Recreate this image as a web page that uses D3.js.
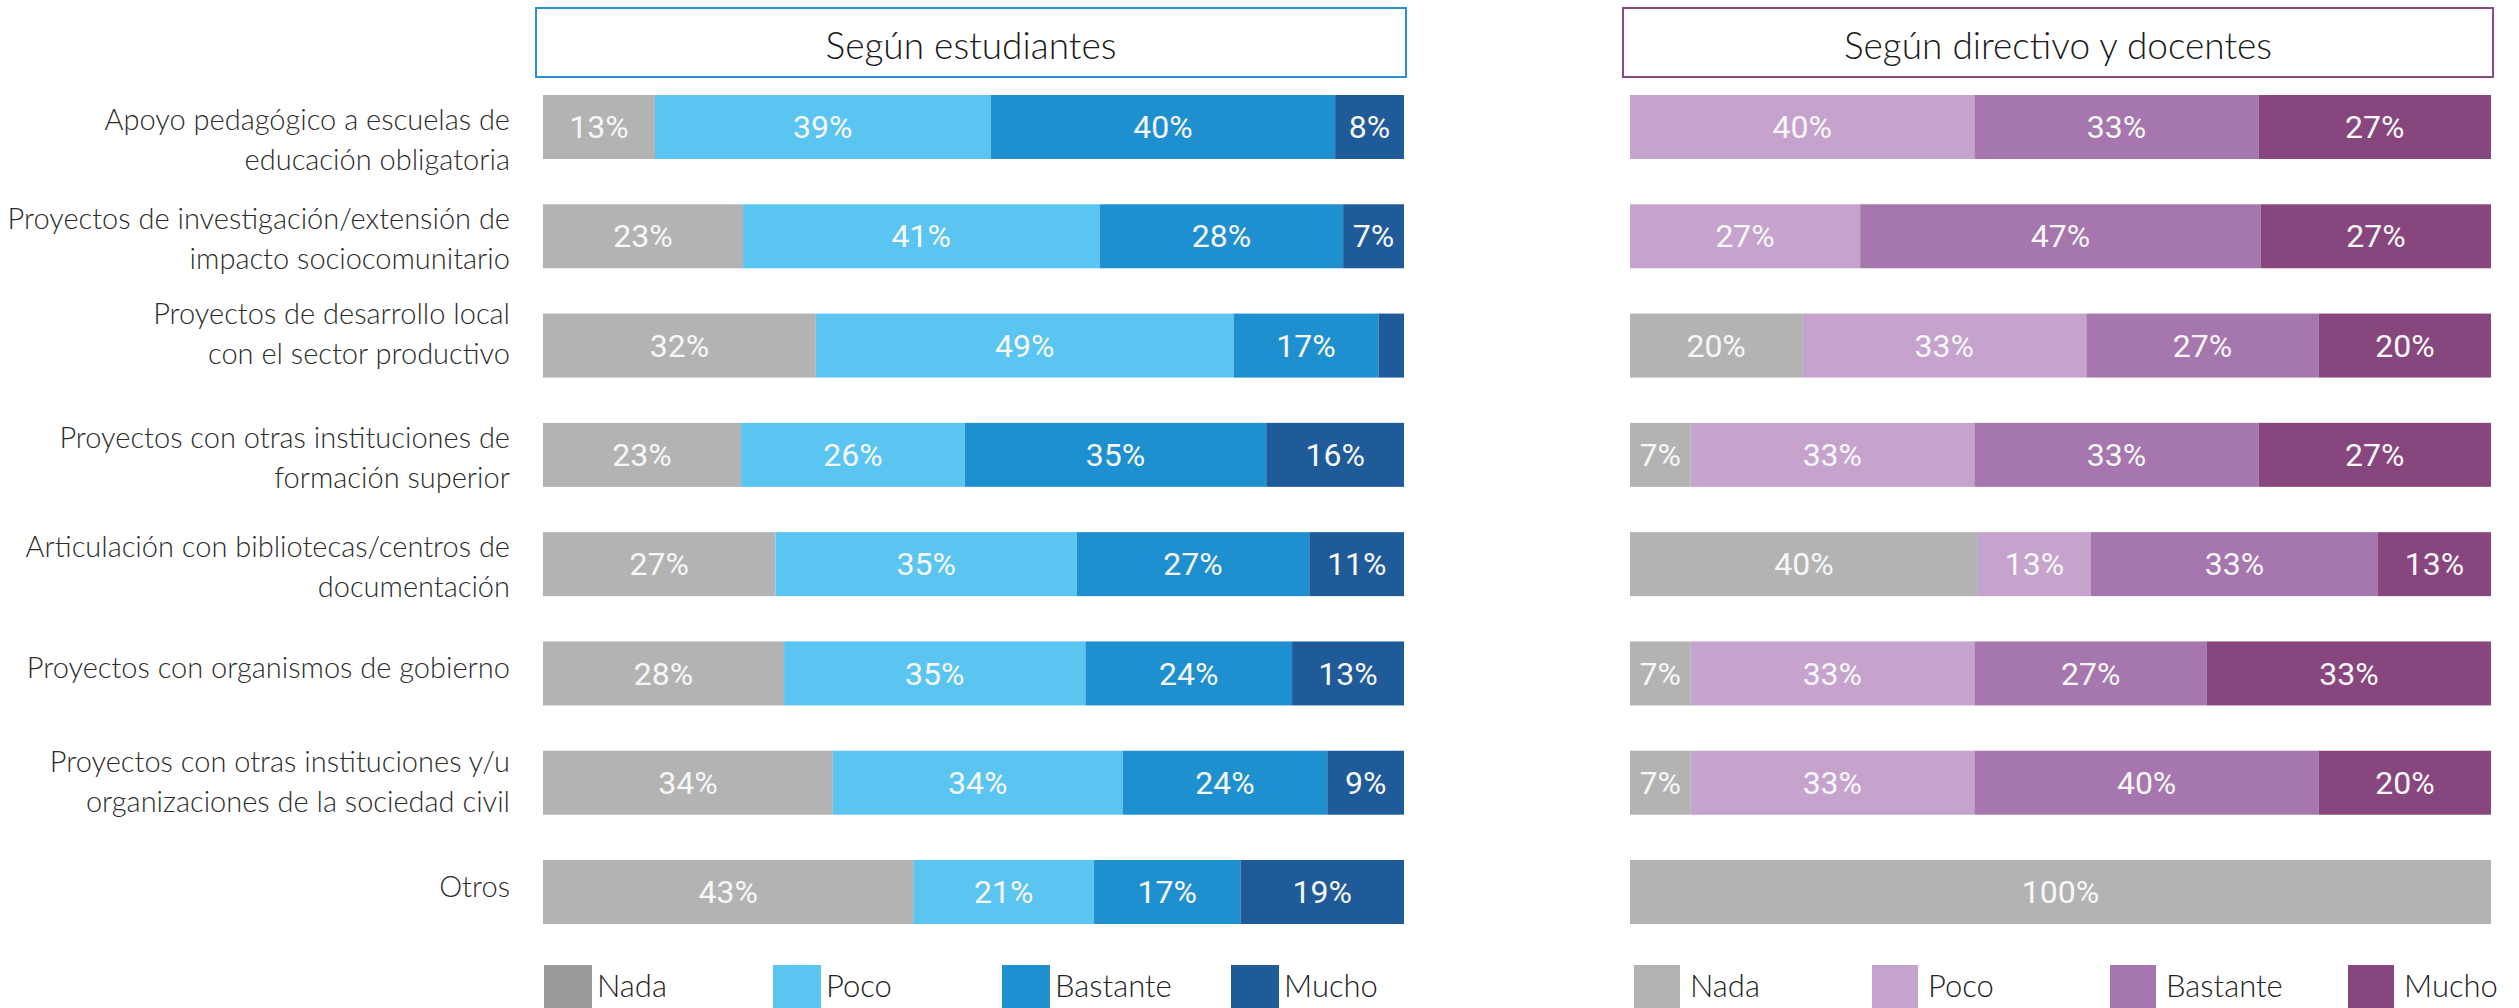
<!DOCTYPE html>
<html>
<head>
<meta charset="utf-8">
<script src="https://cdn.jsdelivr.net/npm/d3@7"></script>
<style>
  body { margin: 0; background: #ffffff; }
  svg { display: block; }
</style>
</head>
<body>
<svg id="chart" width="2519" height="1008"></svg>
<script>
// ---- Data -------------------------------------------------------------
const categories = [
  ["Apoyo pedagógico a escuelas de", "educación obligatoria"],
  ["Proyectos de investigación/extensión de", "impacto sociocomunitario"],
  ["Proyectos de desarrollo local", "con el sector productivo"],
  ["Proyectos con otras instituciones de", "formación superior"],
  ["Articulación con bibliotecas/centros de", "documentación"],
  ["Proyectos con organismos de gobierno"],
  ["Proyectos con otras instituciones y/u", "organizaciones de la sociedad civil"],
  ["Otros"]
];
const levels = ["Nada", "Poco", "Bastante", "Mucho"];

// Según estudiantes (%)
const estudiantesNada     = [13, 23, 32, 23, 27, 28, 34, 43];
const estudiantesPoco     = [39, 41, 49, 26, 35, 35, 34, 21];
const estudiantesBastante = [40, 28, 17, 35, 27, 24, 24, 17];
const estudiantesMucho    = [8, 7, 3, 16, 11, 13, 9, 19];

// Según directivo y docentes (%)
const docentesNada     = [0, 0, 20, 7, 40, 7, 7, 100];
const docentesPoco     = [40, 27, 33, 33, 13, 33, 33, 0];
const docentesBastante = [33, 47, 27, 33, 33, 27, 40, 0];
const docentesMucho    = [27, 27, 20, 27, 13, 33, 20, 0];

const panelTitles = ["Según estudiantes", "Según directivo y docentes"];

// ---- Styling / layout -------------------------------------------------
const colorsEstudiantes = ["#b3b3b3", "#5bc5f2", "#1e90d0", "#1f5b99"];
const colorsDocentes    = ["#b3b3b3", "#c5a3cd", "#a676ae", "#87477e"];
const legendEstudiantes = ["#999999", "#5bc5f2", "#1e90d0", "#1f5b99"];
const legendDocentes    = ["#b3b3b3", "#c5a3cd", "#a676ae", "#87477e"];

const labelFont = "'Segoe UI', Lato, 'Open Sans', sans-serif";
const valueFont = "Roboto, 'DejaVu Sans Condensed', sans-serif";
// small vertical nudges for the category labels
const labelShift = [10, 0, -15, 0, 0, 0, -4, 0];

const svg = d3.select("#chart");

function buildRows(nada, poco, bastante, mucho) {
  return categories.map((c, i) => ({
    idx: i,
    Nada: nada[i], Poco: poco[i], Bastante: bastante[i], Mucho: mucho[i]
  }));
}

const y = d3.scaleBand()
  .domain(d3.range(categories.length))
  .range([95, 924])
  .paddingInner(0.4145)
  .paddingOuter(0);

const stack = d3.stack().keys(levels).offset(d3.stackOffsetExpand);

// ---- Category labels --------------------------------------------------
const labels = svg.append("g")
  .attr("font-family", labelFont)
  .attr("font-weight", 300)
  .attr("font-size", 29)
  .attr("fill", "#2c2c2c")
  .attr("text-anchor", "end");

categories.forEach((lines, i) => {
  const cy = y(i) + y.bandwidth() / 2 + labelShift[i];
  const t = labels.append("text").attr("x", 510);
  if (lines.length === 1) {
    t.append("tspan").attr("x", 510).attr("y", cy + 5).text(lines[0]);
  } else {
    lines.forEach((ln, k) => {
      t.append("tspan").attr("x", 510).attr("y", cy - 7 + k * 40).text(ln);
    });
  }
});

// ---- Panels -----------------------------------------------------------
function drawPanel(cfg) {
  const g = svg.append("g");
  const x = d3.scaleLinear().domain([0, 1]).range(cfg.range);
  const rows = buildRows(...cfg.series);
  const series = stack(rows);
  const color = d3.scaleOrdinal().domain(levels).range(cfg.colors);

  // title box
  g.append("rect")
    .attr("x", cfg.box[0]).attr("y", 8)
    .attr("width", cfg.box[1] - cfg.box[0]).attr("height", 69)
    .attr("fill", "#ffffff")
    .attr("stroke", cfg.boxColor)
    .attr("stroke-width", 2);
  g.append("text")
    .attr("x", (cfg.box[0] + cfg.box[1]) / 2)
    .attr("y", 59)
    .attr("text-anchor", "middle")
    .attr("font-family", labelFont)
    .attr("font-weight", 300)
    .attr("font-size", 37)
    .attr("fill", "#1a1a1a")
    .text(cfg.title);

  // bars
  const layers = g.selectAll("g.layer")
    .data(series)
    .join("g")
    .attr("class", "layer")
    .attr("fill", d => color(d.key));

  layers.selectAll("rect")
    .data(d => d.map(p => ({ p, key: d.key })))
    .join("rect")
    .attr("x", d => x(d.p[0]))
    .attr("y", d => y(d.p.data.idx))
    .attr("width", d => Math.max(0, x(d.p[1]) - x(d.p[0])))
    .attr("height", y.bandwidth());

  // value labels
  layers.selectAll("text")
    .data(d => d.map(p => ({ p, key: d.key })).filter(d => d.p.data[d.key] >= 5))
    .join("text")
    .attr("x", d => (x(d.p[0]) + x(d.p[1])) / 2)
    .attr("y", d => y(d.p.data.idx) + y.bandwidth() / 2)
    .attr("dy", "0.35em")
    .attr("text-anchor", "middle")
    .attr("font-family", valueFont)
    .attr("font-size", 32)
    .attr("fill", "#f7f7f7")
    .text(d => d.p.data[d.key] + "%");

  // legend
  const lg = g.append("g").attr("font-family", labelFont).attr("font-weight", 300)
    .attr("font-size", 31).attr("fill", "#222222");
  levels.forEach((lv, i) => {
    const lx = cfg.legendX0 + i * cfg.legendStep;
    lg.append("rect")
      .attr("x", lx).attr("y", 965)
      .attr("width", cfg.legendSize).attr("height", 48)
      .attr("fill", cfg.legendColors[i]);
    lg.append("text")
      .attr("x", lx + cfg.legendSize + cfg.legendGap)
      .attr("y", 997)
      .text(lv);
  });
}

drawPanel({
  title: panelTitles[0],
  range: [543, 1404],
  box: [536, 1406],
  boxColor: "#2b8fd2",
  series: [estudiantesNada, estudiantesPoco, estudiantesBastante, estudiantesMucho],
  colors: colorsEstudiantes,
  legendColors: legendEstudiantes,
  legendX0: 544, legendStep: 229, legendSize: 48, legendGap: 5
});

drawPanel({
  title: panelTitles[1],
  range: [1630, 2491],
  box: [1623, 2493],
  boxColor: "#8a4a80",
  series: [docentesNada, docentesPoco, docentesBastante, docentesMucho],
  colors: colorsDocentes,
  legendColors: legendDocentes,
  legendX0: 1634, legendStep: 238, legendSize: 46, legendGap: 10
});
</script>
</body>
</html>
